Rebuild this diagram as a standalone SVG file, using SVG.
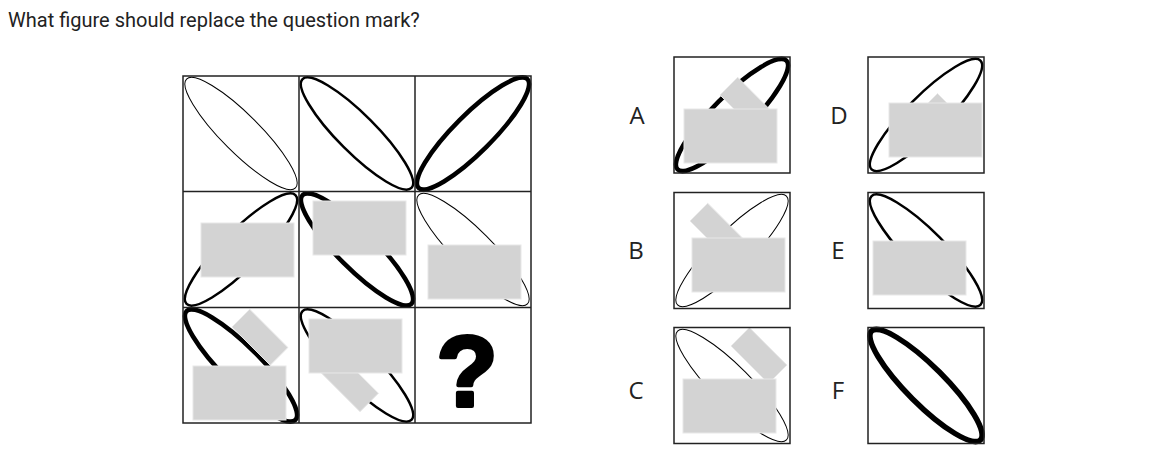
<svg xmlns="http://www.w3.org/2000/svg" width="1172" height="475" viewBox="0 0 1172 475">
<style>
.bg{fill:#fff}
.cell{fill:none;stroke:#222;stroke-width:1.5}
.el{fill:none;stroke:#000}
.w1{stroke-width:1}
.w2{stroke-width:2.5}
.w3{stroke-width:4.5}
.w4{stroke-width:5.5}
.gr{fill:#d3d3d3;stroke:#e8e8e8;stroke-width:1}
.lbl{font-family:"Open Sans","Noto Sans",sans-serif;font-size:24px;fill:#222;text-anchor:middle}
.title{font-family:Roboto,"Liberation Sans",sans-serif;font-size:20px;fill:#222}
.qm{font-family:"Liberation Sans",Arial,sans-serif;font-weight:bold;font-size:100px;fill:#000;stroke:#000;stroke-width:4;stroke-linejoin:round;text-anchor:middle}
</style>
<rect class="bg" x="0" y="0" width="1172" height="475"/>
<text id="title" class="title" x="8" y="27">What figure should replace the question mark?</text>

<g id="grid">
  <g id="cell-1-1">
    <ellipse class="el w1" cx="241" cy="133.5" rx="77" ry="19" transform="rotate(45 241 133.5)"/>
  </g>
  <g id="cell-1-2">
    <ellipse class="el w2" cx="357" cy="133.5" rx="77" ry="19" transform="rotate(45 357 133.5)"/>
  </g>
  <g id="cell-1-3">
    <ellipse class="el w3" cx="473" cy="133.5" rx="77" ry="19" transform="rotate(-45 473 133.5)"/>
  </g>
  <g id="cell-2-1">
    <ellipse class="el w2" cx="241" cy="249.5" rx="77" ry="19" transform="rotate(-45 241 249.5)"/>
    <rect class="gr" x="201" y="223" width="93" height="54"/>
  </g>
  <g id="cell-2-2">
    <ellipse class="el w3" cx="357" cy="249.5" rx="77" ry="19" transform="rotate(45 357 249.5)"/>
    <rect class="gr" x="313" y="201" width="93" height="54"/>
  </g>
  <g id="cell-2-3">
    <ellipse class="el w1" cx="473" cy="249.5" rx="77" ry="19" transform="rotate(45 473 249.5)"/>
    <rect class="gr" x="428" y="245" width="93" height="54"/>
  </g>
  <g id="cell-3-1">
    <ellipse class="el w3" cx="241" cy="365.5" rx="77" ry="19" transform="rotate(45 241 365.5)"/>
    <polygon class="gr" points="232,327 249.7,309.3 287.9,347.5 270.2,365.2"/>
    <rect class="gr" x="193" y="366" width="93" height="54"/>
  </g>
  <g id="cell-3-2">
    <ellipse class="el w2" cx="357" cy="365.5" rx="77" ry="19" transform="rotate(45 357 365.5)"/>
    <polygon class="gr" points="360,411.7 378.4,393.3 328.9,343.8 310.5,362.2"/>
    <rect class="gr" x="309" y="319" width="93" height="54"/>
  </g>
  <g id="cell-3-3">
    <text class="qm" x="467" y="406">?</text>
  </g>
  <rect class="cell" x="183" y="76" width="348" height="347"/>
  <line class="cell" x1="299" y1="76" x2="299" y2="423"/>
  <line class="cell" x1="415" y1="76" x2="415" y2="423"/>
  <line class="cell" x1="183" y1="191.5" x2="531" y2="191.5"/>
  <line class="cell" x1="183" y1="307.5" x2="531" y2="307.5"/>
</g>

<g id="option-A">
  <text class="lbl" x="637" y="124">A</text>
  <ellipse class="el w3" cx="732" cy="115" rx="77" ry="19" transform="rotate(-45 732 115)"/>
  <polygon class="gr" points="720,95 737.7,77.3 773,112.7 755.4,130.4"/>
  <rect class="gr" x="684" y="109" width="93" height="54"/>
  <rect class="cell" x="674" y="57" width="116" height="116"/>
</g>
<g id="option-B">
  <text class="lbl" x="636" y="259">B</text>
  <ellipse class="el w1" cx="732" cy="250.5" rx="77" ry="19" transform="rotate(-45 732 250.5)"/>
  <polygon class="gr" points="690,221 707.7,203.3 750.1,245.7 732.4,263.4"/>
  <rect class="gr" x="692" y="238" width="93" height="54"/>
  <rect class="cell" x="674" y="192.5" width="116" height="116"/>
</g>
<g id="option-C">
  <text class="lbl" x="636" y="399">C</text>
  <ellipse class="el w1" cx="732" cy="385.5" rx="77" ry="19" transform="rotate(45 732 385.5)"/>
  <polygon class="gr" points="731,346 749.4,327.6 786.9,365.1 768.5,383.5"/>
  <rect class="gr" x="683" y="379" width="93" height="54"/>
  <rect class="cell" x="674" y="327.5" width="116" height="116"/>
</g>
<g id="option-D">
  <text class="lbl" x="839" y="124">D</text>
  <ellipse class="el w2" cx="926" cy="115" rx="77" ry="19" transform="rotate(-45 926 115)"/>
  <polygon class="gr" points="925,106 937.5,93.5 950,106"/>
  <rect class="gr" x="889" y="103" width="93" height="54"/>
  <rect class="cell" x="868" y="57" width="116" height="116"/>
</g>
<g id="option-E">
  <text class="lbl" x="838" y="259">E</text>
  <ellipse class="el w2" cx="926" cy="250.5" rx="77" ry="19" transform="rotate(45 926 250.5)"/>
  <rect class="gr" x="873" y="241" width="93" height="54"/>
  <rect class="cell" x="868" y="192.5" width="116" height="116"/>
</g>
<g id="option-F">
  <text class="lbl" x="838" y="399">F</text>
  <ellipse class="el w4" cx="926" cy="385.5" rx="77" ry="19" transform="rotate(45 926 385.5)"/>
  <rect class="cell" x="868" y="327.5" width="116" height="116"/>
</g>
<g id="connectors"/>
</svg>
